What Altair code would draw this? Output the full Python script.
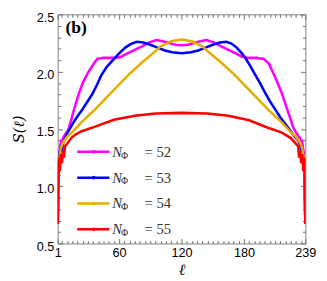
import altair as alt
import pandas as pd

# ---------------- data ----------------
series_names = ["52", "53", "54", "55"]
series_colors = ["#FF00FF", "#0000FF", "#E6AC00", "#FF0000"]

ell_52 = [1, 2, 3, 4, 5, 6, 8, 11, 14, 17, 21, 25, 30, 35, 39, 45, 52, 57, 62, 68,
          75, 82, 89, 96, 102, 108, 114, 120, 126, 132, 138, 144, 151, 158, 165, 172, 178, 185, 192, 199,
          204, 208, 212, 216, 219, 222, 225, 227, 230, 232, 234, 235, 236, 237, 238, 239]
s_52 = [0.67, 1.25, 1.32, 1.38, 1.36, 1.42, 1.45, 1.49, 1.58, 1.68, 1.80, 1.90, 1.99, 2.06, 2.11, 2.12, 2.12, 2.12, 2.13, 2.16,
        2.19, 2.22, 2.255, 2.275, 2.265, 2.25, 2.235, 2.23, 2.235, 2.25, 2.265, 2.275, 2.255, 2.22, 2.19, 2.16, 2.13, 2.12, 2.12, 2.11,
        2.07, 1.99, 1.91, 1.82, 1.74, 1.66, 1.58, 1.52, 1.47, 1.44, 1.42, 1.36, 1.38, 1.32, 1.25, 0.67]

ell_53 = [1, 2, 3, 4, 5, 6, 8, 10, 15, 20, 24, 29, 34, 39, 43, 48, 54, 60, 66, 71,
          77, 83, 90, 97, 104, 111, 120, 129, 136, 143, 150, 157, 163, 168, 173, 178, 182, 186, 191, 196,
          200, 205, 210, 215, 220, 225, 229, 232, 234, 235, 236, 237, 238, 239]
s_53 = [0.67, 1.22, 1.30, 1.33, 1.30, 1.37, 1.42, 1.46, 1.54, 1.61, 1.66, 1.73, 1.80, 1.89, 1.97, 2.04, 2.10, 2.16, 2.21, 2.24,
        2.26, 2.255, 2.235, 2.21, 2.185, 2.17, 2.16, 2.17, 2.185, 2.21, 2.235, 2.255, 2.26, 2.245, 2.21, 2.16, 2.11, 2.05, 1.97, 1.89,
        1.82, 1.74, 1.67, 1.60, 1.54, 1.48, 1.43, 1.40, 1.36, 1.30, 1.33, 1.28, 1.22, 0.67]

ell_54 = [1, 2, 3, 4, 6, 10, 16, 24, 37, 55, 70, 82, 90, 100, 110, 120, 130, 140, 150, 158,
          170, 185, 203, 216, 224, 230, 234, 236, 237, 238, 239]
s_54 = [0.67, 1.20, 1.28, 1.33, 1.38, 1.43, 1.48, 1.56, 1.67, 1.84, 1.98, 2.08, 2.14, 2.22, 2.265, 2.28, 2.265, 2.22, 2.14, 2.08,
        1.98, 1.84, 1.67, 1.56, 1.48, 1.43, 1.38, 1.33, 1.28, 1.20, 0.67]

ell_55 = [1, 2, 3, 4, 5, 6, 7, 8, 10, 14, 18, 24, 37, 55, 75, 95, 120, 145, 165, 185,
          203, 216, 225, 230, 232, 233, 234, 235, 236, 237, 238, 239]
s_55 = [0.67, 1.25, 1.13, 1.28, 1.20, 1.31, 1.25, 1.35, 1.37, 1.42, 1.45, 1.48, 1.52, 1.58, 1.615, 1.635, 1.64, 1.635, 1.615, 1.575,
        1.51, 1.47, 1.42, 1.37, 1.35, 1.25, 1.31, 1.20, 1.28, 1.13, 1.25, 0.67]

x_major = [1, 60, 120, 180, 239]
x_minor = [5, 10, 15, 20, 25, 30, 35, 40, 45, 50, 55, 65, 70, 75, 80, 85, 90, 95, 100, 105, 110, 115,
           125, 130, 135, 140, 145, 150, 155, 160, 165, 170, 175, 185, 190, 195, 200, 205, 210, 215,
           220, 225, 230, 235]
y_major = [0.5, 1.0, 1.5, 2.0, 2.5]
y_minor = [0.6, 0.7, 0.8, 0.9, 1.1, 1.2, 1.3, 1.4, 1.6, 1.7, 1.8, 1.9, 2.1, 2.2, 2.3, 2.4]

all_ell = [ell_52, ell_53, ell_54, ell_55]
all_s = [s_52, s_53, s_54, s_55]

rows = []
for name, ells, ss in zip(series_names, all_ell, all_s):
    for l, s in zip(ells, ss):
        rows.append({"series": name, "ell": l, "S": s})
df = pd.DataFrame(rows)
one = pd.DataFrame({"a": [0]})

# ---------------- layout ----------------
W, H = 254, 235
xscale = alt.Scale(domain=[1, 239], nice=False, zero=False)
yscale = alt.Scale(domain=[0.5, 2.5], nice=False, zero=False)
TICK_COLOR = "#707070"

x_axis_main = alt.Axis(values=x_major, orient="bottom", ticks=False, domain=False, grid=False,
                       labelFont="Liberation Sans", labelFontSize=13, labelColor="black",
                       labelPadding=3, labelFlush=False, labelOverlap=False, format="d",
                       title="ℓ", titleFont="DejaVu Serif", titleFontStyle="italic",
                       titleFontWeight="normal", titleFontSize=16, titleColor="black", titlePadding=3)
y_axis_main = alt.Axis(values=y_major, orient="left", ticks=False, domain=False, grid=False,
                       labelFont="Liberation Sans", labelFontSize=13, labelColor="black",
                       labelPadding=4, labelOffset=3, labelFlush=False, labelOverlap=False, format=".1f",
                       title="S(ℓ)", titleFont="DejaVu Serif", titleFontStyle="italic",
                       titleFontWeight="normal", titleFontSize=15, titleColor="black", titlePadding=10)


def tick_axis(orient, vals, size):
    return alt.Axis(orient=orient, values=vals, tickSize=size, offset=-size, labels=False,
                    domain=False, grid=False, title=None, tickColor=TICK_COLOR, tickWidth=1)


layers = []
# tick layers (invisible marks carrying extra axes)
for xo, yo, xv, yv, sz in [("bottom", "left", x_major, y_major, 5),
                           ("bottom", "left", x_minor, y_minor, 3),
                           ("top", "right", x_major, y_major, 5),
                           ("top", "right", x_minor, y_minor, 3)]:
    layers.append(
        alt.Chart(df).mark_point(opacity=0).encode(
            x=alt.X("ell:Q", scale=xscale, axis=tick_axis(xo, xv, sz)),
            y=alt.Y("S:Q", scale=yscale, axis=tick_axis(yo, yv, sz)),
        )
    )

# data lines
for i, (name, c) in enumerate(zip(series_names, series_colors)):
    layers.append(
        alt.Chart(df).transform_filter(alt.datum.series == name).mark_line(
            color=c, strokeWidth=2.6, clip=True
        ).encode(
            x=alt.X("ell:Q", scale=xscale, axis=x_axis_main if i == 0 else None),
            y=alt.Y("S:Q", scale=yscale, axis=y_axis_main if i == 0 else None),
        )
    )

# panel label
layers.append(
    alt.Chart(one).mark_text(text="(b)", font="Liberation Serif", fontWeight="bold", fontSize=18,
                             align="left", baseline="middle", color="black").encode(
        x=alt.value(8), y=alt.value(14))
)

# legend
LEG_Y0, LEG_DY = 141, 26.5
for i, (name, c) in enumerate(zip(series_names, series_colors)):
    ly = LEG_Y0 + i * LEG_DY
    layers.append(alt.Chart(one).mark_rule(color=c, strokeWidth=2.6).encode(
        x=alt.value(20), x2=alt.value(53), y=alt.value(ly)))
    layers.append(alt.Chart(one).mark_point(color=c, filled=True, size=14, opacity=1).encode(
        x=alt.value(37), y=alt.value(ly)))
    layers.append(alt.Chart(one).mark_text(text="N", font="Liberation Serif", fontStyle="italic",
                                           fontSize=15, align="left", baseline="middle",
                                           color="#333").encode(x=alt.value(56), y=alt.value(ly)))
    layers.append(alt.Chart(one).mark_text(text="Φ", font="Liberation Serif", fontSize=10,
                                           align="left", baseline="middle",
                                           color="#333").encode(x=alt.value(65), y=alt.value(ly + 4)))
    layers.append(alt.Chart(one).mark_text(text="=  " + name, font="Liberation Serif", fontSize=15,
                                           align="left", baseline="middle",
                                           color="#333").encode(x=alt.value(89), y=alt.value(ly)))

chart = alt.layer(*layers).resolve_axis(x="independent", y="independent").properties(
    width=W, height=H,
    padding={"left": 51, "top": 3, "right": 14, "bottom": 35},
    autosize=alt.AutoSizeParams(type="none"),
).configure_view(stroke="#808080", strokeWidth=1)

chart.save("out.html", embed_options={"renderer": "svg", "actions": False})
